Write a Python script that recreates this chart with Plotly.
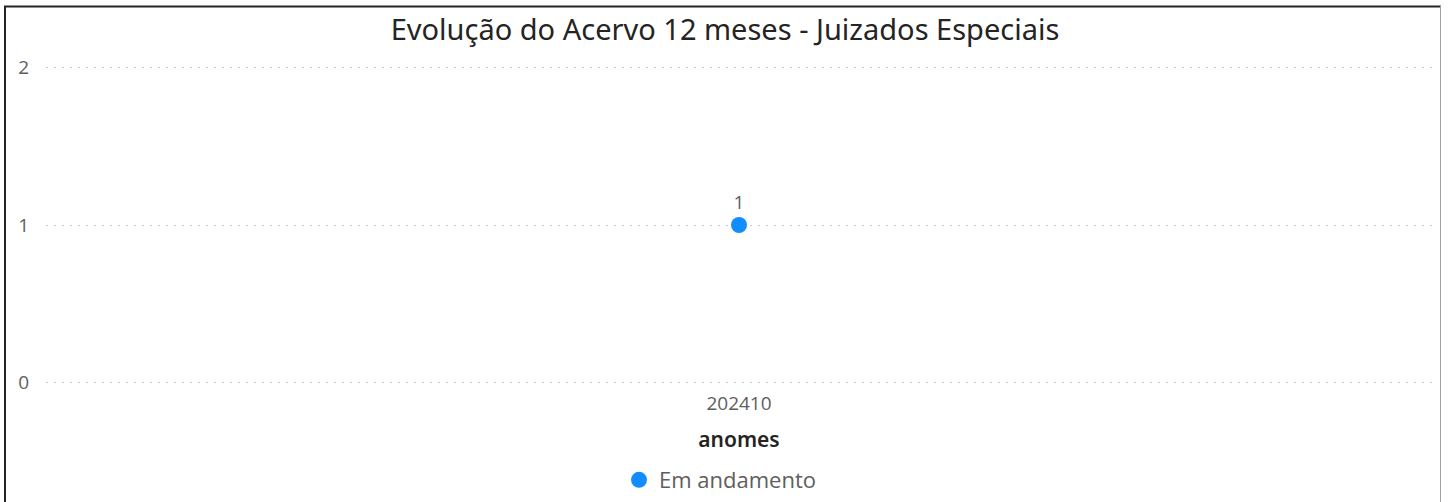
import plotly.graph_objects as go

categories = ["202410"]
values = [1]
series_name = "Em andamento"

W, H = 1450, 502
L, R, T, B = 46, 18, 64, 116
pw, ph = W - L - R, H - T - B

def px(x):
    return (x - L) / pw

def py(y):
    return (H - B - y) / ph

fig = go.Figure()
fig.add_trace(go.Scatter(
    x=categories, y=values, name=series_name,
    mode="markers+text", text=[str(v) for v in values],
    textposition="top center",
    textfont=dict(family="Open Sans", size=19, color="#605E5C"),
    marker=dict(size=16, color="#118DFF"),
    showlegend=True,
))

fig.update_layout(
    width=W, height=H, autosize=False,
    margin=dict(l=L, r=R, t=T, b=B, autoexpand=False),
    paper_bgcolor="white", plot_bgcolor="white",
    title=dict(text="Evolução do Acervo 12 meses - Juizados Especiais",
               x=725 / W, xref="container", xanchor="center",
               y=1 - 30 / H, yref="container", yanchor="middle",
               font=dict(family="Noto Sans", size=29, color="#252423")),
    xaxis=dict(type="category", range=[-0.5, 0.5], showgrid=False, zeroline=False,
               showline=False, ticks="", automargin=False, ticklabelstandoff=4,
               tickfont=dict(family="Open Sans", size=19, color="#605E5C"),
               title=dict(text="anomes", standoff=17,
                          font=dict(family="Noto Sans", size=21, color="#252423", weight=600))),
    yaxis=dict(range=[-0.02, 2.02], tickvals=[0, 1, 2], showgrid=True, griddash="2px,6px",
               gridcolor="#C8C8C8", gridwidth=1, zeroline=False, showline=False,
               ticks="", ticklabelstandoff=16, automargin=False,
               tickfont=dict(family="Open Sans", size=19, color="#605E5C")),
    legend=dict(orientation="h", x=px(720), xanchor="center",
                y=py(480), yanchor="middle",
                font=dict(family="Open Sans", size=22, color="#605E5C"),
                itemwidth=30, itemsizing="trace"),
    showlegend=True,
)

# visual border
fig.add_shape(type="line", xref="paper", yref="paper", x0=px(4), x1=px(1441), y0=py(6.5), y1=py(6.5),
              line=dict(color="#252423", width=2))
fig.add_shape(type="line", xref="paper", yref="paper", x0=px(5), x1=px(5), y0=py(6), y1=py(510),
              line=dict(color="#252423", width=2))
fig.add_shape(type="line", xref="paper", yref="paper", x0=px(1440.5), x1=px(1440.5), y0=py(6), y1=py(510),
              line=dict(color="#A0A0A0", width=1))

fig.write_html("out.html", config={"displayModeBar": False},
               post_script="document.body.style.margin='0px';")
